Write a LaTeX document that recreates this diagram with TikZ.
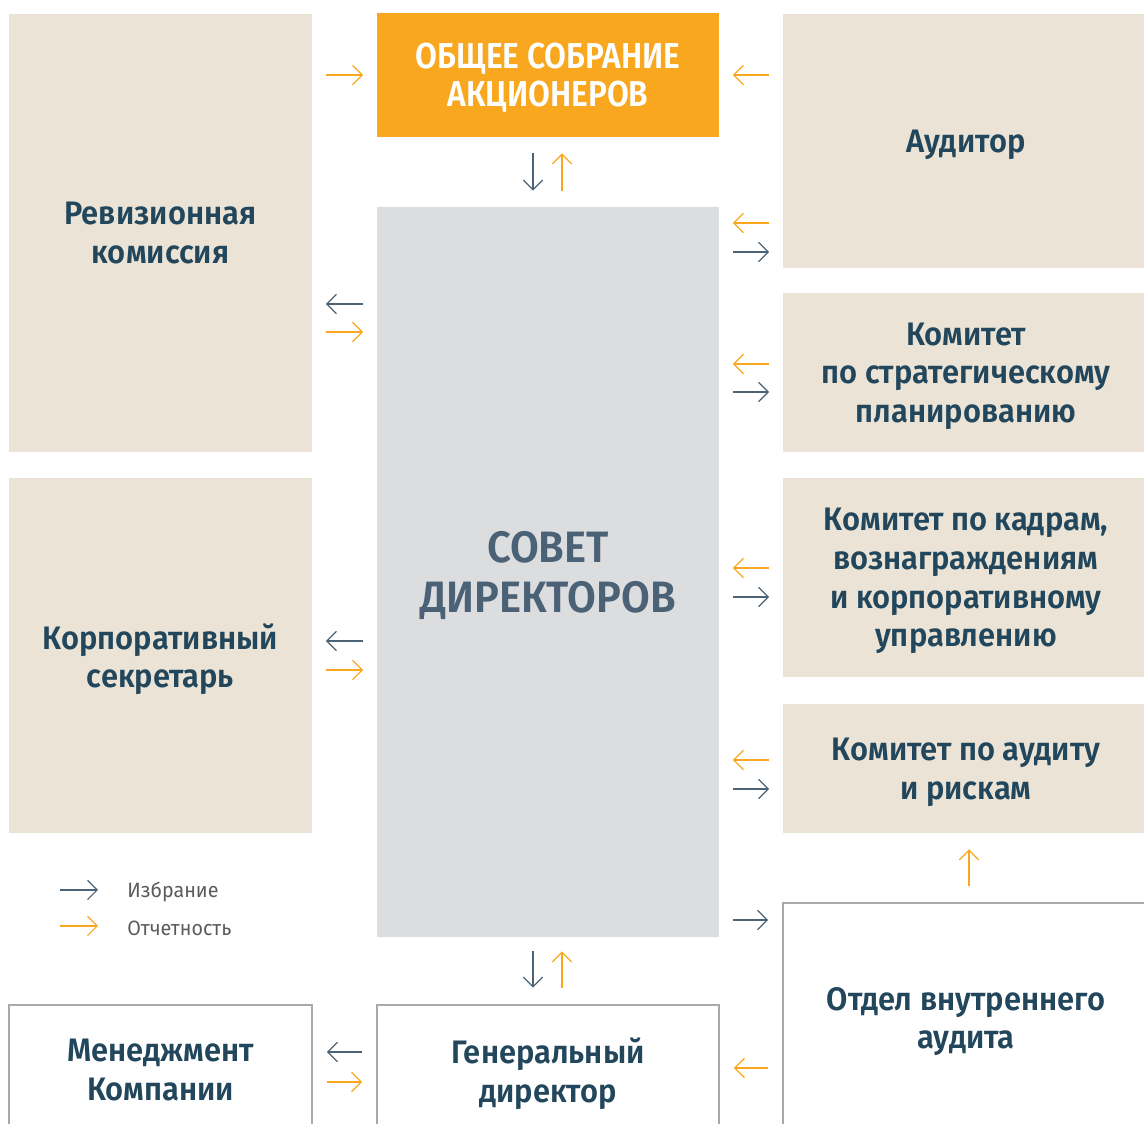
\documentclass[tikz,border=0pt]{standalone}
\usepackage{fontspec}
\setmainfont{Fira Sans}[BoldFont={* SemiBold}, FakeStretch=0.95]
\newfontfamily\capsfont{Fira Sans}[BoldFont={* SemiBold}, FakeStretch=0.88]
\usetikzlibrary{arrows.meta,positioning}
\definecolor{boxbeige}{HTML}{EBE4D6}
\definecolor{boxorange}{HTML}{F8A71E}
\definecolor{boxgray}{HTML}{DCDDDF}
\definecolor{framegray}{HTML}{A7A9AC}
\definecolor{textblue}{HTML}{22465B}
\definecolor{boardblue}{HTML}{4A6176}
\definecolor{arrowblue}{HTML}{4C6275}
\definecolor{arroworange}{HTML}{F8A71E}
\definecolor{legendgray}{HTML}{5A5B5D}
\newcommand\unitsize{0.02}
\tikzset{orgbox/.style={rectangle, inner sep=0pt, align=center, text depth=-2pt, text=textblue, font=\bfseries\fontsize{18.5}{22}\selectfont}}
\tikzset{sidebox/.style={orgbox, fill=boxbeige}}
\tikzset{openbox/.style={orgbox, draw=framegray, line width=1.5pt}}
\tikzset{elect/.style={draw=arrowblue, line width=1.15pt, shorten >=0.27cm, shorten <=0.27cm, -{Straight Barb[length=5.5pt,width=11pt,line width=0.7pt]}}}
\tikzset{report/.style={elect, draw=arroworange}}
\tikzset{legendtext/.style={inner sep=0pt, anchor=west, text=legendgray, font=\fontsize{11.8}{13}\selectfont}}
\begin{document}
\begin{tikzpicture}[x=\unitsize cm, y=-\unitsize cm]
\useasboundingbox (0,0) rectangle (1144,1124);
\clip (0,0) rectangle (1144,1124);
% left column
\node[sidebox, minimum width=303*\unitsize cm, minimum height=438*\unitsize cm] (rev) at (160.5,233) {Ревизионная\\комиссия};
\node[sidebox, minimum width=303*\unitsize cm, minimum height=355*\unitsize cm] (sec) at (160.5,655.5) {Корпоративный\\секретарь};
\node[openbox, minimum width=303*\unitsize cm, minimum height=130*\unitsize cm] (mgmt) at (160.5,1070) {Менеджмент\\Компании};
% middle column
\node[orgbox, fill=boxorange, text=white, minimum width=342*\unitsize cm, minimum height=124*\unitsize cm,
  font=\capsfont\bfseries\fontsize{20.5}{21.5}\selectfont] (gms) at (548,75) {ОБЩЕЕ СОБРАНИЕ\\АКЦИОНЕРОВ};
\node[orgbox, fill=boxgray, text=boardblue, minimum width=342*\unitsize cm, minimum height=730*\unitsize cm,
  font=\bfseries\fontsize{25}{28.5}\selectfont] (sd) at (548,572) {СОВЕТ\\ДИРЕКТОРОВ};
\node[openbox, minimum width=342*\unitsize cm, minimum height=130*\unitsize cm] (gd) at (548,1070) {Генеральный\\директор};
% right column
\node[sidebox, minimum width=366*\unitsize cm, minimum height=254*\unitsize cm] (aud) at (966,141) {Аудитор};
\node[sidebox, minimum width=366*\unitsize cm, minimum height=159*\unitsize cm] (strat) at (966,372.5) {Комитет\\по стратегическому\\планированию};
\node[sidebox, minimum width=366*\unitsize cm, minimum height=199*\unitsize cm] (kadr) at (966,577.5) {Комитет по кадрам,\\вознаграждениям\\и корпоративному\\управлению};
\node[sidebox, minimum width=366*\unitsize cm, minimum height=129*\unitsize cm] (audc) at (966,768.5) {Комитет по аудиту\\и рискам};
\node[openbox, minimum width=366*\unitsize cm, minimum height=230*\unitsize cm] (oda) at (966,1018) {Отдел внутреннего\\аудита};
% shareholders
\draw[report] (rev.east |- 0,75) -- (gms.west |- 0,75);
\draw[report] (aud.west |- 0,75) -- (gms.east |- 0,75);
\draw[elect, shorten <=0.32cm, shorten >=0.32cm] (gms.south -| 533,0) -- (sd.north -| 533,0);
\draw[report, shorten <=0.32cm, shorten >=0.32cm] (sd.north -| 562,0) -- (gms.south -| 562,0);
% board and left column
\foreach \nd/\ye/\yr in {rev/304/332, sec/641/670} {
  \draw[elect] (sd.west |- 0,\ye) -- (\nd.east |- 0,\ye);
  \draw[report] (\nd.east |- 0,\yr) -- (sd.west |- 0,\yr);
}
% board and committees
\foreach \nd/\yr/\ye in {aud/223/252, strat/364/392, kadr/568/597, audc/760/789} {
  \draw[report] (\nd.west |- 0,\yr) -- (sd.east |- 0,\yr);
  \draw[elect] (sd.east |- 0,\ye) -- (\nd.west |- 0,\ye);
}
% internal audit
\draw[elect] (sd.east |- 0,920) -- (oda.west |- 0,920);
\draw[report, shorten <=0.32cm, shorten >=0.32cm] (oda.north -| 969,0) -- (audc.south -| 969,0);
\draw[report] (oda.west |- 0,1068) -- (gd.east |- 0,1068);
% management
\draw[elect, shorten <=0.28cm, shorten >=0.32cm] (sd.south -| 533,0) -- (gd.north -| 533,0);
\draw[report, shorten <=0.32cm, shorten >=0.28cm] (gd.north -| 562,0) -- (sd.south -| 562,0);
\draw[elect] (gd.west |- 0,1052) -- (mgmt.east |- 0,1052);
\draw[report] (mgmt.east |- 0,1082) -- (gd.west |- 0,1082);
% legend
\node[legendtext] (lgel) at (127,892) {Избрание};
\node[legendtext] (lgrep) at (127,928) {Отчетность};
\coordinate (lgels) at (60,890);
\coordinate (lgreps) at (60,926);
\draw[elect, shorten <=0pt, shorten >=29*\unitsize cm] (lgels) -- (lgel.west |- lgels);
\draw[report, shorten <=0pt, shorten >=29*\unitsize cm] (lgreps) -- (lgrep.west |- lgreps);
\end{tikzpicture}
\end{document}
